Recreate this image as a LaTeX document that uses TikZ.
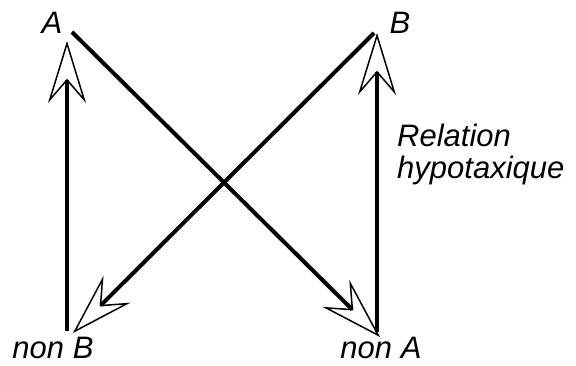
\documentclass[tikz,border=0pt]{standalone}
\usepackage{fontspec}
\setmainfont{Liberation Sans}
\usetikzlibrary{arrows.meta}

\begin{document}
\begin{tikzpicture}[x=1pt, y=1pt,
    lbl/.style={inner sep=0pt, anchor=base, font=\fontsize{31}{32}\selectfont\itshape},
    rel/.style={line width=4pt, -{Stealth[open, length=62pt, width=38pt, inset=22pt, line width=1.5pt]}}]
    \useasboundingbox (0,0) rectangle (576,365);
    % labels
    \node (a) [lbl] at (52,331) {A};
    \node (b) [lbl] at (400,331) {B};
    \node (nonb) [lbl] at (53,7) {non B};
    \node (nona) [lbl] at (381,7) {non A};
    \node (hyp) [lbl, anchor=base west, align=left] at (397,187) {Relation\\hypotaxique};
    % end points
    \coordinate (a-tip) at (67,324);
    \coordinate (a-start) at (72,333);
    \coordinate (b-tip) at (377,332);
    \coordinate (b-start) at (374,332);
    \coordinate (nonb-tip) at (73,32);
    \coordinate (nonb-start) at (67,34);
    \coordinate (nona-tip) at (380,28);
    \coordinate (nona-start) at (377,33);
    % relations
    \draw[rel] (nonb-start) -- (a-tip);
    \draw[rel] (nona-start) -- (b-tip);
    \draw[rel] (a-start) -- (nona-tip);
    \draw[rel] (b-start) -- (nonb-tip);
\end{tikzpicture}
\end{document}
